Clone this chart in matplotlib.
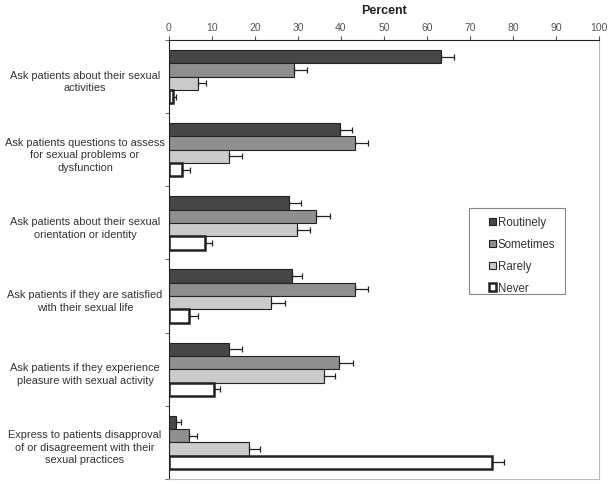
import numpy as np
import matplotlib
matplotlib.use('Agg')
from matplotlib import pyplot as plt
from matplotlib.patches import Rectangle

plt.rcParams['font.family'] = ['Liberation Sans', 'DejaVu Sans']

questions = [
    'Ask patients about their sexual\nactivities',
    'Ask patients questions to assess\nfor sexual problems or\ndysfunction',
    'Ask patients about their sexual\norientation or identity',
    'Ask patients if they are satisfied\nwith their sexual life',
    'Ask patients if they experience\npleasure with sexual activity',
    'Express to patients disapproval\nof or disagreement with their\nsexual practices',
]
series = ['Routinely', 'Sometimes', 'Rarely', 'Never']
routinely = [63.3, 39.7, 27.8, 28.5, 13.9, 1.7]
routinely_err = [3.1, 2.9, 3.0, 2.5, 3.1, 1.2]
sometimes = [29.1, 43.3, 34.3, 43.3, 39.5, 4.7]
sometimes_err = [2.9, 3.1, 3.1, 3.1, 3.3, 1.7]
rarely = [6.7, 14.0, 29.8, 23.7, 36.1, 18.5]
rarely_err = [1.8, 2.9, 2.9, 3.3, 2.5, 2.7]
never = [1.0, 3.1, 8.3, 4.7, 10.5, 75.1]
never_err = [0.6, 1.9, 1.6, 2.1, 1.4, 2.7]

values = [routinely, sometimes, rarely, never]
errors = [routinely_err, sometimes_err, rarely_err, never_err]
colors = ['#464646', '#8f8f8f', '#cbcbcb', '#ffffff']
edge_w = [0.8, 0.8, 0.8, 1.8]

fig = plt.figure(figsize=(6.09, 4.85), dpi=100)
ax = fig.add_axes([0.2775, 0.0103, 0.706, 0.9052])

n = len(questions)
y = np.arange(n)
h = 0.182
for i, name in enumerate(series):
    pos = y - 1.5 * h + i * h
    ax.barh(pos, values[i], height=h, color=colors[i], edgecolor='#222222',
            linewidth=edge_w[i], label=name, zorder=2)
    ax.errorbar(values[i], pos, xerr=[np.zeros(n), errors[i]], fmt='none',
                ecolor='#222222', elinewidth=0.9, capsize=2.5, capthick=0.9, zorder=3)

ax.set_xlim(0, 100)
ax.set_ylim(n - 0.5, -0.5)
ax.set_xticks(np.arange(0, 101, 10))
ax.xaxis.tick_top()
ax.xaxis.set_label_position('top')
ax.set_xlabel('Percent', fontsize=9, fontweight='bold', color='#222222', labelpad=6)
ax.tick_params(axis='x', labelsize=7.5, colors='#555555', length=3, pad=3)

ax.set_yticks(y + 0.03)
ax.set_yticklabels(questions, fontsize=7.9, color='#333333', ha='center',
                   multialignment='center', linespacing=1.32)
ax.tick_params(axis='y', length=0, pad=60.5)
ax.set_yticks(np.arange(-0.5, n, 1.0), minor=True)
ax.tick_params(axis='y', which='minor', length=3, color='#555555')

for side in ['right', 'bottom']:
    ax.spines[side].set_color('#bbbbbb')
    ax.spines[side].set_linewidth(0.8)
ax.spines['top'].set_color('#222222')
ax.spines['left'].set_color('#222222')

# legend box drawn separately so the padding can match the original
ax.add_patch(Rectangle((0.698, 0.421), 0.223, 0.196, transform=ax.transAxes,
                       facecolor='white', edgecolor='#888888', linewidth=0.8,
                       zorder=4))
leg = ax.legend(loc='upper left', bbox_to_anchor=(0.744, 0.598), fontsize=8.3,
                frameon=False, handlelength=0.6, handleheight=0.6,
                handletextpad=0.15, labelspacing=0.86, borderpad=0,
                borderaxespad=0)
leg.set_zorder(5)
for t in leg.get_texts():
    t.set_color('#333333')

fig.savefig('out.png', dpi=100)
